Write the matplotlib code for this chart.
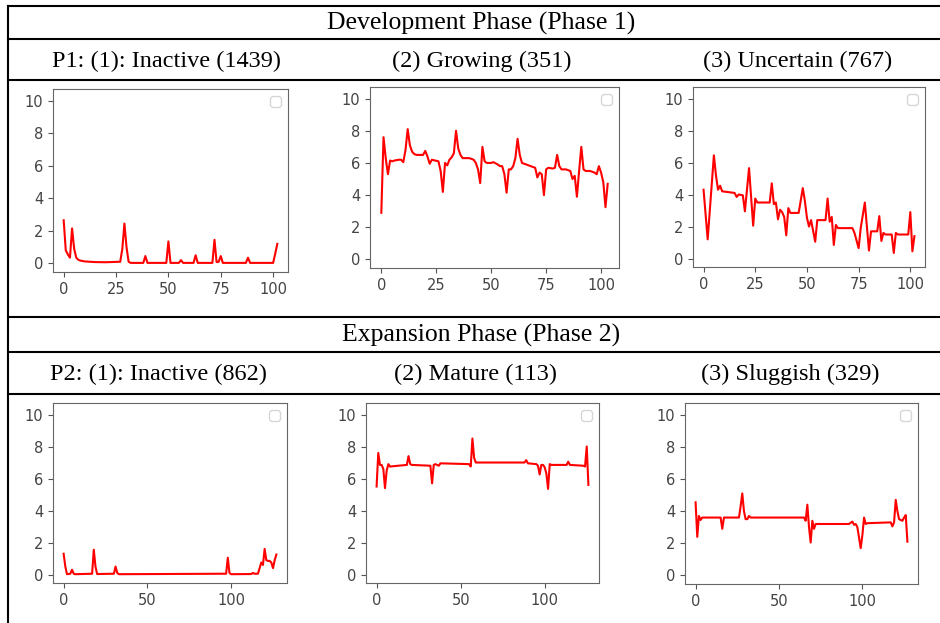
import matplotlib
matplotlib.use("Agg")
import matplotlib.pyplot as plt
from matplotlib.lines import Line2D

W, H = 940, 623

phase_titles = ["Development Phase (Phase 1)", "Expansion Phase (Phase 2)"]
p1_labels = ["P1: (1): Inactive (1439)", "(2) Growing (351)", "(3) Uncertain (767)"]
p2_labels = ["P2: (1): Inactive (862)", "(2) Mature (113)", "(3) Sluggish (329)"]

# (index, value) pairs
p1_inactive = [(0, 2.65), (1, 0.8), (2, 0.55), (3, 0.35), (4, 2.15), (5, 0.9), (6, 0.35),
               (7, 0.22), (8, 0.17), (10, 0.12), (15, 0.08), (20, 0.07), (27, 0.1), (28, 0.9),
               (29, 2.45), (30, 1.0), (31, 0.1), (32, 0.03), (38, 0.03), (39, 0.45), (40, 0.03),
               (49, 0.03), (50, 1.35), (51, 0.03), (55, 0.03), (56, 0.2), (57, 0.03), (62, 0.03),
               (63, 0.5), (64, 0.03), (71, 0.03), (72, 1.45), (73, 0.08), (74, 0.1), (75, 0.45),
               (76, 0.03), (87, 0.03), (88, 0.35), (89, 0.03), (100, 0.03), (101, 0.6), (102, 1.2)]
p1_growing = [(0, 2.9), (1, 7.6), (2, 6.3), (3, 5.3), (4, 6.15), (5, 6.1), (6, 6.15), (8, 6.2),
              (9, 6.2), (10, 6.05), (11, 6.8), (12, 8.1), (13, 7.1), (14, 6.7), (15, 6.55),
              (16, 6.5), (19, 6.5), (20, 6.75), (21, 6.4), (22, 5.95), (23, 6.2), (26, 6.1),
              (27, 5.5), (28, 4.2), (29, 6.0), (30, 5.85), (31, 6.2), (32, 6.35), (33, 6.6),
              (34, 8.0), (35, 6.9), (36, 6.5), (37, 6.3), (40, 6.3), (42, 6.2), (43, 6.0),
              (44, 5.6), (45, 4.75), (46, 7.0), (47, 6.1), (48, 6.0), (50, 6.0), (51, 6.05),
              (53, 5.9), (54, 5.8), (55, 5.8), (56, 5.3), (57, 4.15), (58, 5.6), (59, 5.6),
              (60, 5.8), (61, 6.3), (62, 7.5), (63, 6.5), (64, 6.0), (66, 5.9), (68, 5.8),
              (70, 5.7), (71, 5.1), (72, 5.4), (73, 5.3), (74, 4.0), (75, 5.6), (76, 5.7),
              (78, 5.65), (79, 5.7), (80, 6.5), (81, 5.8), (82, 5.6), (84, 5.6), (86, 5.5),
              (87, 5.0), (88, 5.2), (89, 3.9), (90, 5.5), (91, 7.0), (92, 5.6), (93, 5.5),
              (95, 5.5), (97, 5.4), (98, 5.3), (99, 5.8), (100, 5.4), (101, 4.8), (102, 3.25),
              (103, 4.7)]
p1_uncertain = [(0, 4.3), (2, 1.2), (5, 6.45), (6, 5.2), (7, 4.3), (8, 4.55), (9, 4.2),
                (15, 4.1), (16, 3.85), (17, 4.0), (19, 3.95), (20, 2.95), (22, 5.65), (24, 2.05),
                (25, 3.75), (26, 3.5), (32, 3.5), (33, 4.7), (34, 3.4), (35, 3.5), (36, 2.45),
                (37, 3.05), (38, 2.9), (39, 2.6), (40, 1.45), (41, 3.15), (42, 2.85), (46, 2.85),
                (48, 4.4), (49, 3.6), (50, 2.55), (51, 2.0), (52, 2.4), (54, 1.05), (55, 2.4),
                (59, 2.4), (60, 3.75), (61, 2.3), (62, 2.6), (63, 0.85), (64, 2.1), (65, 1.9),
                (72, 1.9), (73, 1.6), (75, 0.65), (76, 1.9), (78, 3.5), (80, 0.5), (81, 1.7),
                (84, 1.7), (85, 2.65), (86, 1.1), (87, 1.6), (88, 1.5), (91, 1.5), (92, 0.35),
                (93, 1.6), (94, 1.5), (99, 1.5), (100, 2.9), (101, 0.45), (102, 1.4)]

p2_inactive = [(0, 1.3), (1, 0.5), (2, 0.02), (4, 0.05), (5, 0.3), (6, 0.05), (7, 0.02),
               (17, 0.05), (18, 1.55), (19, 0.5), (20, 0.03), (30, 0.05), (31, 0.5), (32, 0.1),
               (33, 0.02), (97, 0.05), (98, 1.05), (99, 0.1), (100, 0.02), (112, 0.03),
               (113, 0.1), (114, 0.05), (116, 0.05), (117, 0.4), (118, 0.75), (119, 0.6),
               (120, 1.6), (121, 0.9), (122, 0.85), (123, 0.85), (124, 0.75), (125, 0.4),
               (126, 0.9), (127, 1.25)]
p2_mature = [(0, 5.5), (1, 7.6), (2, 6.85), (3, 6.85), (4, 6.6), (5, 5.4), (6, 6.5), (7, 6.9),
             (8, 6.75), (18, 6.85), (19, 7.4), (20, 6.9), (21, 6.85), (32, 6.8), (33, 5.7),
             (34, 6.85), (35, 6.9), (37, 6.8), (38, 6.95), (55, 6.9), (56, 6.75), (57, 8.5),
             (58, 7.3), (59, 7.0), (88, 7.0), (89, 7.15), (90, 6.95), (95, 6.9), (96, 6.8),
             (97, 6.25), (98, 6.85), (99, 6.85), (100, 6.7), (101, 6.3), (102, 5.35), (103, 6.9),
             (104, 6.85), (113, 6.85), (114, 7.05), (115, 6.85), (123, 6.8), (124, 6.75),
             (125, 8.0), (126, 5.6)]
p2_sluggish = [(0, 4.55), (1, 2.4), (2, 3.7), (3, 3.45), (4, 3.6), (15, 3.6), (16, 2.9),
               (17, 3.6), (26, 3.6), (27, 4.3), (28, 5.1), (29, 4.0), (30, 3.5), (31, 3.5),
               (32, 3.7), (33, 3.6), (65, 3.6), (66, 3.4), (67, 4.4), (68, 3.0), (69, 2.05),
               (70, 3.4), (71, 2.9), (72, 3.2), (92, 3.2), (94, 3.35), (95, 3.15), (96, 3.2),
               (97, 3.0), (99, 1.7), (100, 2.5), (101, 3.6), (102, 3.2), (103, 3.25), (117, 3.3),
               (118, 3.05), (119, 3.3), (120, 4.7), (121, 4.0), (122, 3.5), (124, 3.4),
               (125, 3.6), (126, 3.75), (127, 2.1)]

top_xticks = [0, 25, 50, 75, 100]
bottom_xticks = [0, 50, 100]
yticks = [0, 2, 4, 6, 8, 10]


def fx(x):
    return x / W


def fy(y):
    return 1 - y / H


fig = plt.figure(figsize=(W / 100, H / 100), dpi=100)

# table rules
for y in [6, 39, 80, 317, 352, 394]:
    fig.add_artist(Line2D([fx(8), fx(W + 5)], [fy(y), fy(y)], color="black", lw=1.5))
fig.add_artist(Line2D([fx(8), fx(8)], [fy(6), fy(H + 5)], color="black", lw=1.5))

serif = "Liberation Serif"
fig.text(fx(481), fy(23.5), phase_titles[0], family=serif, fontsize=18.5, ha="center", va="center")
fig.text(fx(481), fy(335.5), phase_titles[1], family=serif, fontsize=18.5, ha="center", va="center")
for cx, lab in zip([167, 482, 798], p1_labels):
    fig.text(fx(cx), fy(61), lab, family=serif, fontsize=17.5, ha="center", va="center")
for cx, lab in zip([158, 476, 790], p2_labels):
    fig.text(fx(cx), fy(374), lab, family=serif, fontsize=17.5, ha="center", va="center")

# axes boxes in pixels: left, top, right, bottom
boxes = [(53, 89, 288, 272), (370, 87, 619, 268), (693, 87, 925, 267),
         (53, 403, 287, 583), (366, 403, 599, 583), (685, 403, 918, 584)]
series = [p1_inactive, p1_growing, p1_uncertain, p2_inactive, p2_mature, p2_sluggish]

for i, ((l, t, r, b), data) in enumerate(zip(boxes, series)):
    ax = fig.add_axes([fx(l), fy(b), (r - l) / W, (b - t) / H])
    xs = [p[0] for p in data]
    ys = [p[1] for p in data]
    ax.plot(xs, ys, color="red", lw=1.5)
    ax.set_ylim(-0.53, 10.72)
    ax.set_yticks(yticks)
    ax.set_xticks(top_xticks if i < 3 else bottom_xticks)
    ax.tick_params(labelsize=10.5, colors="#555555", labelcolor="#444444")
    for s in ax.spines.values():
        s.set_color("#666666")
    ax.legend(handles=[], loc="upper right")

fig.savefig("out.png", dpi=100)
